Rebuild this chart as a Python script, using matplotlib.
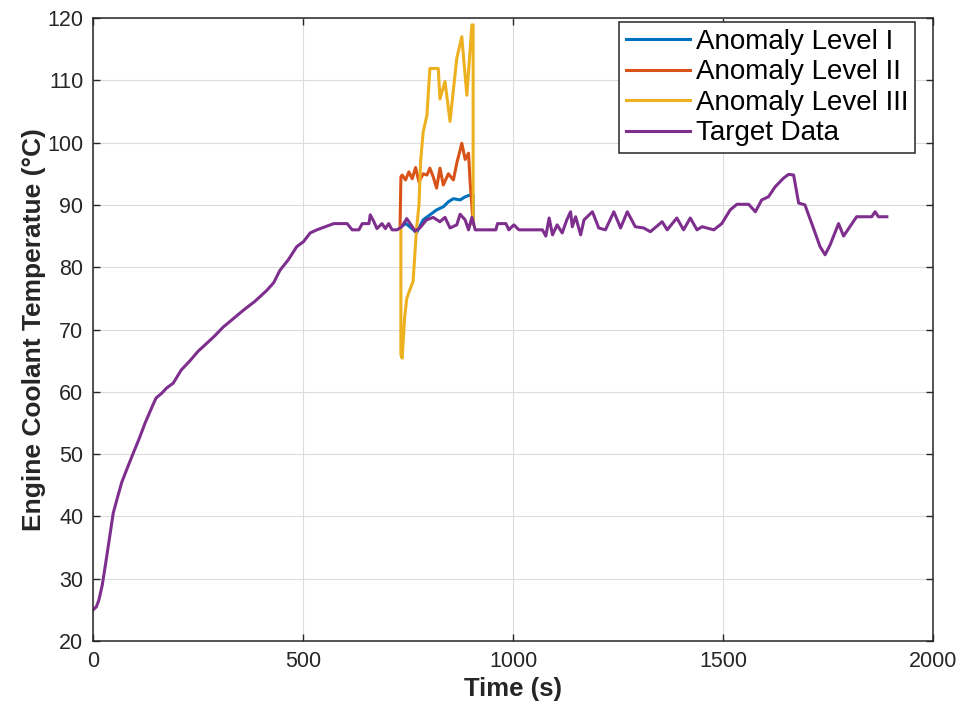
import matplotlib
matplotlib.use("Agg")
import matplotlib.pyplot as plt

plt.rcParams['font.family'] = ['Liberation Sans', 'DejaVu Sans']

# Target data (time s, temp degC)
target_t = [0, 8, 14, 22, 29, 38, 48, 58, 68, 80, 96, 110, 124, 140, 150, 164, 175, 191,
            210, 231, 250, 271, 290, 310, 335, 358, 385, 414, 430, 445, 465, 485,
            501, 517, 533, 573, 605, 617, 633, 641, 657, 660, 668, 676, 688, 696,
            704, 712, 724, 735, 747, 755, 767, 778, 794, 810, 826, 838, 850, 866,
            874, 886, 894, 902, 910, 959, 963, 983, 990, 1002, 1014, 1070, 1078,
            1086, 1094, 1105, 1117, 1128, 1137, 1141, 1149, 1161, 1169, 1189, 1204,
            1220, 1240, 1256, 1272, 1291, 1311, 1327, 1355, 1367, 1390, 1406, 1422,
            1438, 1450, 1478, 1497, 1517, 1533, 1561, 1577, 1592, 1608, 1624, 1644,
            1656, 1668, 1680, 1695, 1715, 1731, 1743, 1755, 1775, 1787, 1802, 1818,
            1854, 1862, 1870, 1890]
target_y = [25, 25.5, 26.6, 29, 32, 36, 40.5, 43, 45.4, 47.5, 50.2, 52.5, 55, 57.5, 59,
            59.8, 60.6, 61.4, 63.5, 65, 66.5, 67.8, 69, 70.4, 71.8, 73.1, 74.5, 76.3,
            77.5, 79.5, 81.2, 83.3, 84.1, 85.5, 86, 87, 87, 86, 86, 87, 87, 88.4,
            87.4, 86.2, 87, 86.2, 87, 86, 86, 86.5, 87.8, 87, 85.8, 86.3, 87.6, 88,
            87.3, 88, 86.3, 86.8, 88.5, 87.6, 86, 88, 86, 86, 87, 87, 86, 86.8, 86,
            86, 85, 87.9, 85.2, 86.8, 85.5, 87.6, 88.9, 86.5, 88.1, 85.2, 87.6, 88.9,
            86.3, 86, 88.9, 86.3, 88.9, 86.5, 86.3, 85.7, 87.3, 86, 87.9, 86, 87.9, 86,
            86.5, 86, 87, 89.2, 90.1, 90.1, 88.9, 90.8, 91.3, 92.9, 94.3, 94.9, 94.8,
            90.3, 90, 86.3, 83.3, 82, 83.6, 87, 85, 86.5, 88.1, 88.1, 88.9, 88.1, 88.1]

# Anomaly level I
lvl1_t = [733, 745, 763, 770, 786, 802, 818, 834, 846, 858, 874, 886, 898, 905, 905]
lvl1_y = [86.5, 87, 86, 85.5, 87.6, 88.4, 89.2, 89.7, 90.5, 91, 90.8, 91.3, 91.6, 91.6, 87]

# Anomaly level II
lvl2_t = [731, 733, 736, 744, 752, 760, 768, 776, 786, 795, 802, 810, 818, 826, 834,
          846, 858, 866, 874, 878, 886, 894, 898, 905]
lvl2_y = [86.5, 94.5, 94.8, 94, 95.3, 94.2, 96, 93.7, 95, 94.8, 95.9, 94.5, 92.7, 95.9,
          93.2, 95, 94, 96.7, 98.8, 99.9, 97.3, 98.3, 93.5, 87]

# Anomaly level III
lvl3_t = [733, 733, 736, 742, 747, 755, 762, 770, 776, 780, 786, 795, 802, 822, 826,
          838, 850, 866, 878, 890, 902, 905, 905]
lvl3_y = [86.5, 66, 65.4, 72, 75, 76.5, 77.7, 86, 90, 97, 101.7, 104.4, 111.9, 111.9,
          107, 109.8, 103.4, 113.5, 117, 107.6, 118.9, 118.9, 87]

fig = plt.figure(figsize=(9.63, 7.06), dpi=100)
ax = fig.add_axes([0.0966, 0.092, 0.8723, 0.8825])

lw = 2.2
ax.plot(lvl1_t, lvl1_y, color='#0072BD', lw=lw, label='Anomaly Level I')
ax.plot(lvl2_t, lvl2_y, color='#D95319', lw=lw, label='Anomaly Level II')
ax.plot(lvl3_t, lvl3_y, color='#EDB120', lw=lw, label='Anomaly Level III')
ax.plot(target_t, target_y, color='#7E2F8E', lw=lw, label='Target Data')

ax.set_xlim(0, 2000)
ax.set_ylim(20, 120)
ax.set_xticks(range(0, 2001, 500))
ax.set_yticks(range(20, 121, 10))
ax.grid(True, color='#dcdcdc', lw=0.8)
ax.set_axisbelow(True)
ax.tick_params(direction='in', top=True, right=True, labelsize=15.5,
               colors='#262626', length=5, width=1, pad=7)
for s in ax.spines.values():
    s.set_color('#262626')
    s.set_linewidth(1.1)

ax.set_xlabel('Time (s)', fontsize=18.5, fontweight='bold', color='#262626', labelpad=4)
ax.set_ylabel('Engine Coolant Temperatue (°C)', fontsize=19, fontweight='bold',
              color='#262626', labelpad=1)

leg = ax.legend(loc='upper right', bbox_to_anchor=(0.9786, 0.9936), borderaxespad=0,
                fontsize=20, handlelength=2.3, handletextpad=0.22, labelspacing=0.16,
                borderpad=0.25, fancybox=False, framealpha=1, edgecolor='#262626')
leg.get_frame().set_linewidth(1.1)

fig.savefig('out.png', dpi=100)
